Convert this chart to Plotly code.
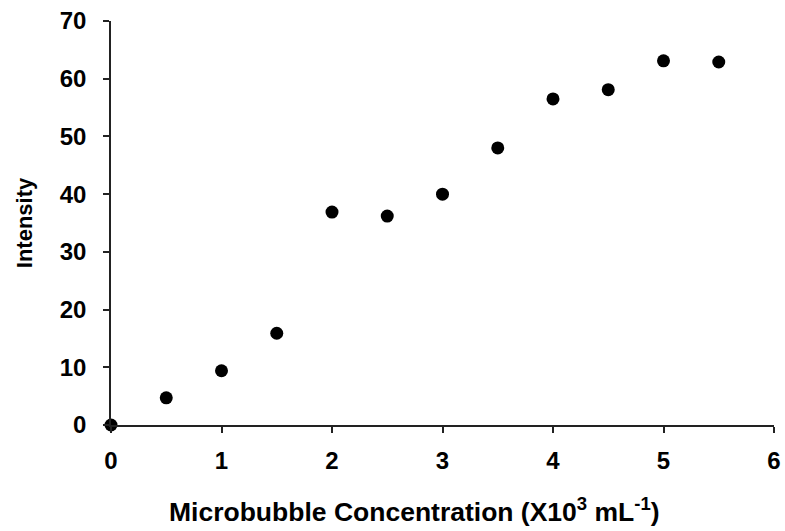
import plotly.graph_objects as go

concentration = [0, 0.5, 1, 1.5, 2, 2.5, 3, 3.5, 4, 4.5, 5, 5.5]
intensity = [0, 4.7, 9.4, 15.9, 36.9, 36.2, 40.0, 48.0, 56.5, 58.1, 63.1, 62.9]
x_ticks = [0, 1, 2, 3, 4, 5, 6]
y_ticks = [0, 10, 20, 30, 40, 50, 60, 70]
x_title = "Microbubble Concentration (X10<sup>3</sup> mL<sup>-1</sup>)"
y_title = "Intensity"

FONT = "Liberation Sans, Arial, sans-serif"

fig = go.Figure()
fig.add_trace(go.Scatter(
    x=concentration, y=intensity, mode="markers",
    marker=dict(size=13, color="black"),
    cliponaxis=False, showlegend=False,
))

fig.update_layout(
    width=785, height=531,
    margin=dict(l=111, r=11, t=21, b=106),
    paper_bgcolor="white", plot_bgcolor="white",
    font=dict(family=FONT, color="black"),
)
fig.add_annotation(
    text=x_title, xref="paper", yref="paper", x=0.4585, y=-0.211,
    xanchor="center", yanchor="middle", showarrow=False,
    font=dict(size=26.5, weight="bold"),
)
fig.update_xaxes(
    range=[0, 6], tickvals=x_ticks, showgrid=False, zeroline=False,
    showline=True, linecolor="#222", linewidth=1.5,
    ticks="outside", ticklen=6, tickwidth=1.5, tickcolor="#222",
    tickfont=dict(size=24, weight="bold"),
    ticklabelstandoff=7, automargin=False,
)
fig.update_yaxes(
    range=[0, 70], tickvals=y_ticks, showgrid=False, zeroline=False,
    showline=True, linecolor="#222", linewidth=1.5,
    ticks="outside", ticklen=6, tickwidth=1.5, tickcolor="#222",
    tickfont=dict(size=24, weight="bold"),
    ticklabelstandoff=12, automargin=False,
    title=dict(text=y_title, font=dict(size=22, weight="bold"), standoff=21),
)

fig.write_html("out.html", config={"displayModeBar": False},
               post_script="document.body.style.margin='0';document.body.style.overflow='hidden';")
